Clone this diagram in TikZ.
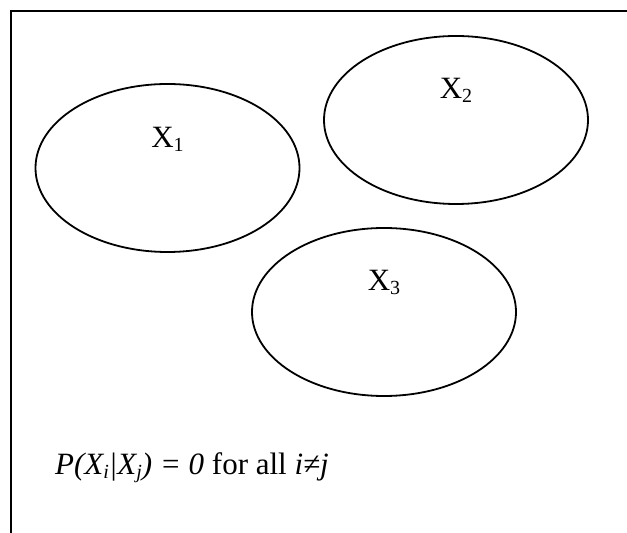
\documentclass[tikz,border=0pt]{standalone}
\usepackage{fontspec}
\setmainfont{Liberation Serif}
\usetikzlibrary{shapes.geometric}
\newcommand{\mysub}[1]{\raisebox{-4pt}{\fontsize{20}{20}\selectfont #1}}
\tikzset{
  setbox/.style={draw=black, line width=1.8pt, ellipse, minimum width=264pt, minimum height=168pt, inner sep=0pt},
  setlabel/.style={anchor=base, inner sep=0pt, font=\fontsize{31}{34}\selectfont},
}
\begin{document}
\begin{tikzpicture}[x=1pt,y=1pt]
\clip (0,0) rectangle (627,533);
\fill[white] (0,0) rectangle (627,533);
\draw[line width=2.2pt] (11,-20) -- (11,522) -- (650,522);
\node[setbox] (s1) at (167.5,365) {};
\node[setbox] (s2) at (456,413) {};
\node[setbox] (s3) at (384,221) {};
\node[setlabel] (l1) at (167.5,385) {X\mysub{1}};
\node[setlabel] (l2) at (456,434) {X\mysub{2}};
\node[setlabel] (l3) at (384,242) {X\mysub{3}};
\node[setlabel, anchor=base west] (eq) at (55,58) {\textit{P(X\mysub{i}|X\mysub{j}) = 0} for all \textit{i≠j}};
\end{tikzpicture}
\end{document}
